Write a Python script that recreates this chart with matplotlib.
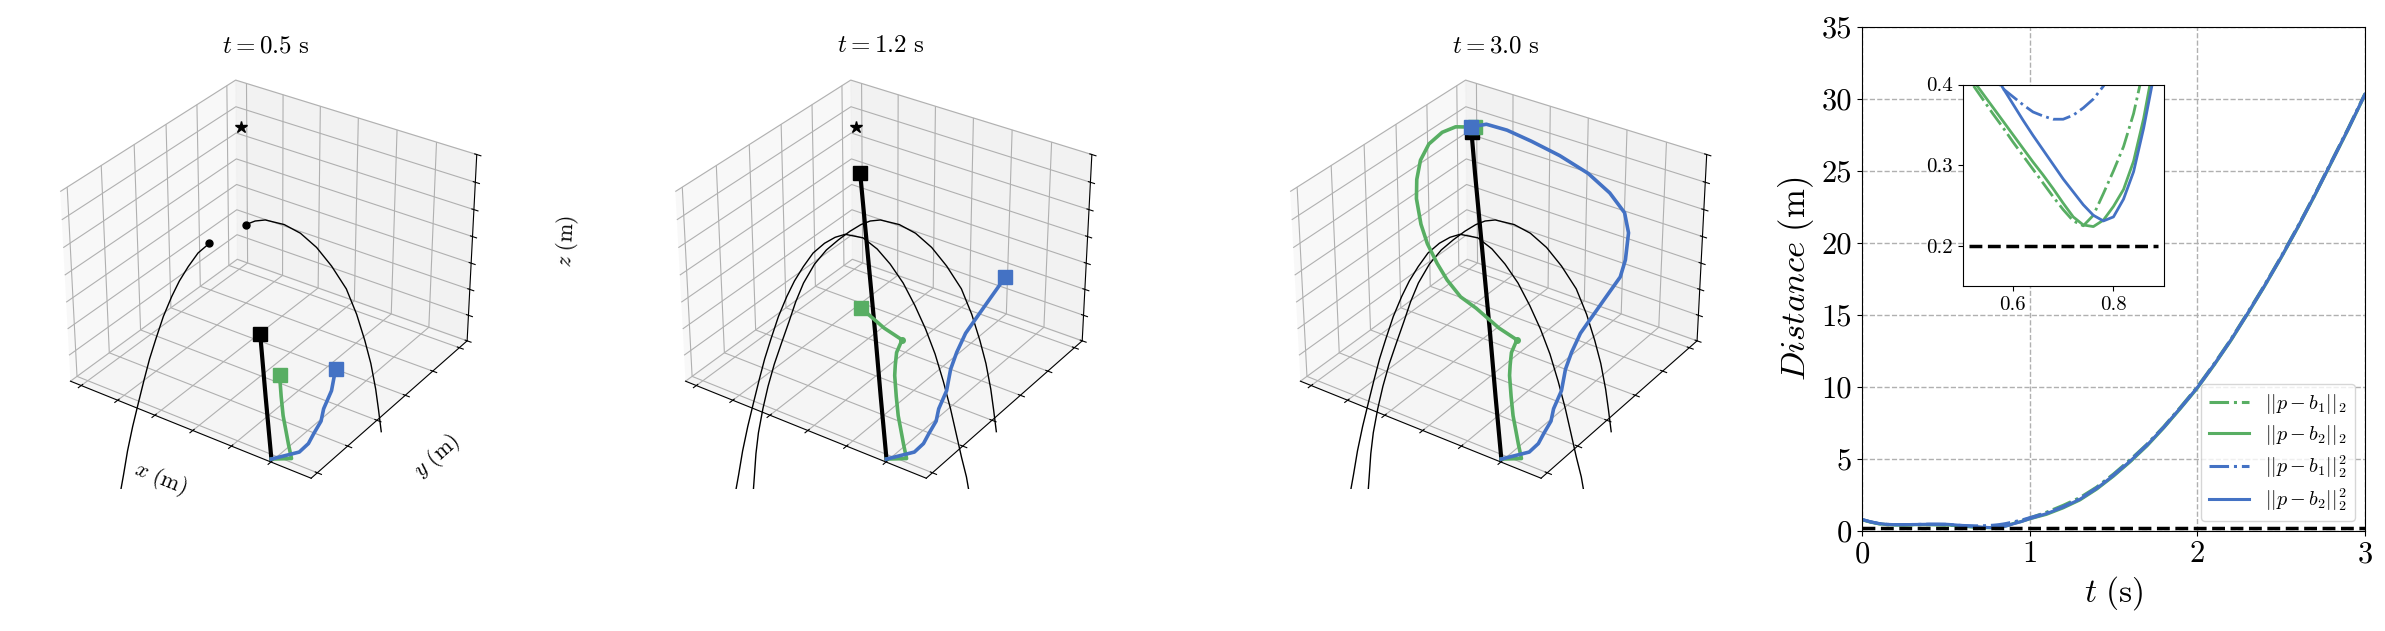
"""
Ball-avoidance snapshots at three instants plus the distance history.
"""
import matplotlib
matplotlib.use("Agg")
import matplotlib.pyplot as plt

plt.rcParams.update({
    "font.family": "serif",
    "font.serif": ["cmr10", "DejaVu Serif"],
    "mathtext.fontset": "cm",
    "axes.unicode_minus": False,
})

GREEN = "#58ae63"
BLUE = "#4472c4"

# ---------------- 3D scene data (metres) ----------------
goal = (-4.1, 4.0, 3.35)

black_x = [-0.05, -0.78, -1.51, -2.48, -3.51, -4.05]
black_y = [-0.12, 0.62, 1.37, 2.35, 3.39, 3.95]
black_z = [0.0, 0.60, 1.21, 2.01, 2.86, 3.28]

green_x = [-0.05, 0.44, 0.24, 0.02, -0.16, -0.387, -0.625, -0.71, -0.796, -0.78,
           -1.347, -2.126, -2.646, -3.174, -3.615, -4.085, -4.466, -4.864, -5.061,
           -5.166, -5.103, -4.854, -4.53, -4.0]
green_y = [-0.12, -0.105, 0.056, 0.243, 0.395, 0.622, 0.875, 1.002, 1.154, 1.31,
           1.45, 1.687, 1.826, 2.037, 2.25, 2.503, 2.756, 3.091, 3.344,
           3.599, 3.81, 3.958, 4.013, 4.0]
green_z = [0.0, 0.15, 0.27, 0.41, 0.525, 0.708, 0.915, 1.027, 1.165, 1.333,
           1.337, 1.396, 1.412, 1.502, 1.614, 1.762, 1.933, 2.188, 2.405,
           2.645, 2.884, 3.102, 3.254, 3.37]
green_kink = 9

blue_x = [-0.05, 0.568, 0.71, 0.633, 0.618, 0.491, 0.442, 0.262, 0.177, 0.141,
          0.226, 0.353, 0.482, 0.413, 0.2, -0.088, -0.611, -1.233, -1.977,
          -2.692, -3.281, -3.79, -4.1]
blue_y = [-0.12, -0.023, 0.084, 0.357, 0.613, 0.864, 1.185, 1.554, 1.869, 2.21,
          2.455, 2.762, 3.071, 3.337, 3.729, 3.982, 4.181, 4.268, 4.279,
          4.25, 4.177, 4.123, 4.0]
blue_z = [0.0, 0.268, 0.415, 0.442, 0.546, 0.617, 0.787, 0.963, 1.111, 1.3,
          1.499, 1.774, 2.05, 2.233, 2.512, 2.707, 2.865, 3.044, 3.194,
          3.306, 3.406, 3.423, 3.35]

ball1_x = [-0.569, -0.651, -0.751, -0.851, -0.972, -1.111, -1.269, -1.446, -1.641,
           -1.855, -2.086, -2.316, -2.565, -2.878, -3.056, -3.244, -3.449, -3.629,
           -3.791, -3.935, -4.094, -4.24, -4.366, -4.48, -4.6, -4.72, -4.833,
           -4.926, -5.027]
ball1_y = [3.501, 3.452, 3.391, 3.331, 3.258, 3.175, 3.08, 2.973, 2.856,
           2.728, 2.588, 2.45, 2.301, 2.112, 2.005, 1.892, 1.769, 1.661,
           1.563, 1.477, 1.381, 1.294, 1.217, 1.149, 1.077, 1.004, 0.937,
           0.881, 0.82]
ball1_z = [-2.811, -2.346, -1.936, -1.489, -0.95, -0.41, 0.13, 0.614, 1.061,
           1.489, 1.843, 2.122, 2.327, 2.392, 2.337, 2.228, 2.048, 1.793,
           1.527, 1.234, 0.856, 0.428, 0.037, -0.378, -0.838, -1.309, -1.806,
           -2.303, -2.811]

ball2_x = [-4.678, -4.631, -4.586, -4.526, -4.429, -4.321, -4.195, -4.049, -3.904,
           -3.777, -3.63, -3.427, -3.213, -2.999, -2.793, -2.6, -2.437, -2.258,
           -1.926, -1.64, -1.354, -1.085, -0.814, -0.619, -0.461, -0.341, -0.24,
           -0.178, -0.115]
ball2_y = [1.03, 1.058, 1.085, 1.121, 1.18, 1.245, 1.32, 1.408, 1.495,
           1.572, 1.66, 1.782, 1.911, 2.039, 2.163, 2.279, 2.378, 2.485,
           2.685, 2.856, 3.029, 3.191, 3.353, 3.471, 3.566, 3.638, 3.698,
           3.736, 3.774]
ball2_z = [-2.811, -2.333, -1.862, -1.434, -0.95, -0.503, -0.069, 0.354, 0.763,
           1.136, 1.489, 1.843, 2.104, 2.29, 2.448, 2.569, 2.634, 2.653,
           2.569, 2.411, 2.15, 1.806, 1.378, 0.894, 0.391, -0.056, -0.559,
           -0.968, -1.415]

# snapshot: title time, index reached on black / green / blue path, first ball index
snap_times = ["0.5", "1.2", "3.0"]
snap_black = [2, 4, 5]
snap_green = [6, 11, 23]
snap_blue = [7, 12, 22]
snap_ball = [15, 0, 0]

# ---------------- distance history ----------------
t_dist = [0.0, 0.05, 0.1, 0.15, 0.2, 0.25, 0.3, 0.35, 0.4, 0.45,
          0.5, 0.52, 0.54, 0.56, 0.58, 0.6, 0.62, 0.64, 0.66, 0.68, 0.7,
          0.72, 0.74, 0.76, 0.78, 0.8, 0.82, 0.84, 0.86, 0.88, 0.9,
          0.95, 1.0, 1.1, 1.2, 1.3, 1.4, 1.5, 1.6, 1.7, 1.8, 1.9, 2.0,
          2.1, 2.2, 2.3, 2.4, 2.5, 2.6, 2.7, 2.8, 2.9, 3.0]
d_b1_norm = [0.78, 0.62, 0.50, 0.44, 0.42, 0.42, 0.43, 0.44, 0.44, 0.43,
             0.417, 0.400, 0.382, 0.364, 0.347, 0.329, 0.312, 0.295, 0.278, 0.261, 0.245,
             0.231, 0.225, 0.238, 0.265, 0.293, 0.323, 0.364, 0.42, 0.48, 0.55,
             0.70, 0.90, 1.30, 1.78, 2.32, 3.05, 3.95, 4.95, 6.02, 7.25, 8.6, 10.0,
             11.6, 13.3, 15.15, 17.05, 19.05, 21.15, 23.35, 25.65, 27.95, 30.35]
d_b2_norm = [0.78, 0.62, 0.50, 0.44, 0.42, 0.42, 0.43, 0.44, 0.44, 0.43,
             0.423, 0.406, 0.389, 0.372, 0.355, 0.338, 0.321, 0.304, 0.288, 0.271, 0.253,
             0.236, 0.226, 0.224, 0.232, 0.249, 0.27, 0.305, 0.358, 0.425, 0.51,
             0.66, 0.84, 1.15, 1.6, 2.15, 2.9, 3.8, 4.8, 5.9, 7.15, 8.5, 9.9,
             11.5, 13.2, 15.05, 16.95, 18.95, 21.05, 23.25, 25.55, 27.85, 30.25]
d_b1_sq = [0.80, 0.64, 0.52, 0.46, 0.44, 0.44, 0.45, 0.46, 0.47, 0.47,
           0.46, 0.445, 0.428, 0.41, 0.395, 0.385, 0.375, 0.366, 0.361, 0.357, 0.357,
           0.362, 0.371, 0.382, 0.398, 0.418, 0.445, 0.48, 0.52, 0.57, 0.62,
           0.75, 0.92, 1.25, 1.7, 2.25, 3.0, 3.9, 4.9, 6.0, 7.2, 8.55, 9.95,
           11.55, 13.25, 15.1, 17.0, 19.0, 21.1, 23.3, 25.6, 27.9, 30.3]
d_b2_sq = [0.80, 0.64, 0.52, 0.46, 0.44, 0.44, 0.45, 0.46, 0.47, 0.47,
           0.47, 0.455, 0.437, 0.417, 0.396, 0.376, 0.356, 0.337, 0.319, 0.301, 0.283,
           0.267, 0.251, 0.238, 0.231, 0.236, 0.258, 0.292, 0.346, 0.41, 0.49,
           0.65, 0.85, 1.2, 1.65, 2.2, 2.95, 3.85, 4.85, 5.95, 7.2, 8.55, 9.95,
           11.55, 13.25, 15.1, 17.0, 19.0, 21.1, 23.3, 25.6, 27.9, 30.3]
safety = 0.2

series = [
    (d_b1_norm, GREEN, "-.", r"$||p-b_1||_2$"),
    (d_b2_norm, GREEN, "-", r"$||p-b_2||_2$"),
    (d_b1_sq, BLUE, "-.", r"$||p-b_1||_2^2$"),
    (d_b2_sq, BLUE, "-", r"$||p-b_2||_2^2$"),
]


def draw_snapshot(ax, i, labels):
    """Draw one 3D snapshot of the scene."""
    kb, kg, kl, k0 = snap_black[i], snap_green[i], snap_blue[i], snap_ball[i]

    ax.plot(ball1_x[k0:], ball1_y[k0:], ball1_z[k0:], color="k", lw=1.0)
    ax.plot(ball2_x[k0:], ball2_y[k0:], ball2_z[k0:], color="k", lw=1.0)
    if k0 > 0:
        ax.plot([ball1_x[k0]], [ball1_y[k0]], [ball1_z[k0]], "ko", ms=5)
        ax.plot([ball2_x[k0]], [ball2_y[k0]], [ball2_z[k0]], "ko", ms=5)

    ax.plot([goal[0]], [goal[1]], [goal[2]], "k*", ms=9)

    ax.plot(black_x[:kb + 1], black_y[:kb + 1], black_z[:kb + 1], color="k", lw=3)
    ax.plot([black_x[kb]], [black_y[kb]], [black_z[kb]], "s", color="k", ms=10)

    ax.plot(green_x[:kg + 1], green_y[:kg + 1], green_z[:kg + 1], color=GREEN, lw=2.6)
    if kg > green_kink:
        ax.plot([green_x[green_kink]], [green_y[green_kink]], [green_z[green_kink]],
                "o", color=GREEN, ms=4)
    ax.plot([green_x[kg]], [green_y[kg]], [green_z[kg]], "s", color=GREEN, ms=9.5)

    ax.plot(blue_x[:kl + 1], blue_y[:kl + 1], blue_z[:kl + 1], color=BLUE, lw=2.6)
    ax.plot([blue_x[kl]], [blue_y[kl]], [blue_z[kl]], "s", color=BLUE, ms=9.5)

    ax.set_xlim(-5.3, 1.0)
    ax.set_ylim(-0.2, 5.3)
    ax.set_zlim(0.0, 3.5)
    ax.set_xticks([-5, -4, -3, -2, -1, 0])
    ax.set_yticks([0, 1, 2, 3, 4, 5])
    ax.set_zticks([0, 0.5, 1.0, 1.5, 2.0, 2.5, 3.0, 3.5])
    ax.set_xticklabels([])
    ax.set_yticklabels([])
    ax.set_zticklabels([])
    ax.view_init(elev=31, azim=-55.5)
    ax.set_box_aspect((4, 4, 3), zoom=1.06)
    ax.set_title(r"$t = %s\ \mathrm{s}$" % snap_times[i], fontsize=18)
    if labels:
        ax.set_xlabel(r"$x\ (\mathrm{m})$", fontsize=16, labelpad=4)
        ax.set_ylabel(r"$y\ (\mathrm{m})$", fontsize=16, labelpad=8)
        ax.set_zlabel(r"$z\ (\mathrm{m})$", fontsize=16, labelpad=18)


fig = plt.figure(figsize=(23.85, 6.31), dpi=100)

for i, left in enumerate([0.0216, 0.2795, 0.5373]):
    ax3 = fig.add_axes([left, 0.225, 0.1796, 0.6789], projection="3d")
    draw_snapshot(ax3, i, labels=(i == 0))

ax = fig.add_axes([0.7807, 0.1585, 0.2109, 0.7995])
for vals, col, ls, lab in series:
    ax.plot(t_dist, vals, color=col, ls=ls, lw=2.2, label=lab)
ax.axhline(safety, color="k", ls="--", lw=2.5)
ax.set_xlim(0, 3)
ax.set_ylim(0, 35)
ax.set_xticks([0, 1, 2, 3])
ax.set_yticks([0, 5, 10, 15, 20, 25, 30, 35])
ax.tick_params(labelsize=22)
ax.grid(True, linestyle="--", color="#b0b0b0", lw=1.0)
ax.set_xlabel(r"$t\ (\mathrm{s})$", fontsize=24)
ax.set_ylabel(r"$Distance\ (\mathrm{m})$", fontsize=25)
ax.legend(loc="lower right", fontsize=14.5, labelspacing=0.32, borderpad=0.4)

axin = ax.inset_axes([0.2, 0.485, 0.4, 0.4])
for vals, col, ls, lab in series:
    axin.plot(t_dist, vals, color=col, ls=ls, lw=2.0)
axin.axhline(safety, xmin=0.03, xmax=0.97, color="k", ls="--", lw=2.5)
axin.set_xlim(0.5, 0.9)
axin.set_ylim(0.15, 0.4)
axin.set_xticks([0.6, 0.8])
axin.set_yticks([0.2, 0.3, 0.4])
axin.tick_params(labelsize=15)

fig.savefig("out.png", dpi=100)
